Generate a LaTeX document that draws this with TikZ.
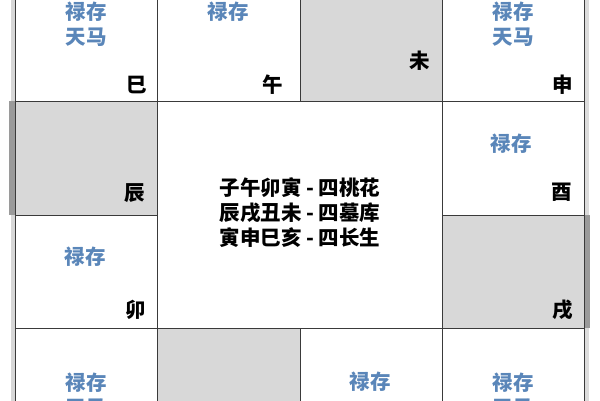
\documentclass[tikz,border=0pt]{standalone}
\usepackage{fontspec}
\newfontfamily\cjk{Noto Sans CJK SC}
\definecolor{linec}{HTML}{3A3A3A}
\definecolor{cellgray}{HTML}{D8D8D8}
\definecolor{blueT}{HTML}{5A86B9}
\definecolor{shadowc}{HTML}{9A9A9A}
\tikzset{
  cell/.style={draw=linec, line width=1.1pt, rectangle, inner sep=0pt, anchor=north west,
    minimum width=142.25pt, minimum height=113.5pt},
  graycell/.style={cell, fill=cellgray},
  whitecell/.style={cell, fill=white},
  branch/.style={font=\cjk\bfseries\fontsize{20.5}{20.5}\selectfont, text=black, inner sep=0pt},
  star/.style={font=\cjk\bfseries\fontsize{20.5}{25}\selectfont, text=blueT, inner sep=0pt, align=center},
  mid/.style={font=\cjk\bfseries\fontsize{20.5}{25}\selectfont, text=black, inner sep=0pt, align=center}
}
\begin{document}
\begin{tikzpicture}[x=1pt,y=-1pt]
\useasboundingbox (0,0) rectangle (600,400);
\clip (0,0) rectangle (600,400);
\fill[white] (0,0) rectangle (600,400);
% shadows
\fill[shadowc!40] (11,-12.5) rectangle (15,441.5);
\fill[shadowc!35] (584,-12.5) rectangle (589,441.5);
\fill[shadowc] (9,101) rectangle (15,214.5);
\fill[shadowc] (584,214.5) rectangle (590,328);
% top row
\node[whitecell] (cSi)   at (15,-12.5) {};
\node[whitecell] (cWu)   at (157.25,-12.5) {};
\node[graycell]  (cWei)  at (299.5,-12.5) {};
\node[whitecell] (cShen) at (441.75,-12.5) {};
% second row
\node[graycell]  (cChen) at (15,101) {};
\node[whitecell] (cYou)  at (441.75,101) {};
% third row
\node[whitecell] (cMao)  at (15,214.5) {};
\node[graycell]  (cXu)   at (441.75,214.5) {};
% bottom row
\node[whitecell] (cYin)  at (15,328) {};
\node[graycell]  (cChou) at (157.25,328) {};
\node[whitecell] (cZi)   at (299.5,328) {};
\node[whitecell] (cHai)  at (441.75,328) {};
% center
\node[cell, fill=white, minimum width=284.5pt, minimum height=227pt] (cCenter) at (157.25,101) {};
% branch labels
\node[branch] (lSi)   at (137,85) {巳};
\node[branch] (lWu)   at (273,85) {午};
\node[branch] (lWei)  at (420,61) {未};
\node[branch] (lShen) at (563,85) {申};
\node[branch] (lChen) at (135,193) {辰};
\node[branch] (lYou)  at (562,192) {酉};
\node[branch] (lMao)  at (136,310) {卯};
\node[branch] (lXu)   at (563,310) {戌};
% stars
\node[star] (sSi)   at (86,24.5) {禄存\\天马};
\node[star] (sWu)   at (228,12) {禄存};
\node[star] (sShen) at (513,24.5) {禄存\\天马};
\node[star] (sYou)  at (511,144) {禄存};
\node[star] (sMao)  at (85,257) {禄存};
\node[star] (sYin)  at (86,395) {禄存\\天马};
\node[star] (sZi)   at (370,382) {禄存};
\node[star] (sHai)  at (513,395) {禄存\\天马};
% center text
\node[mid] (tCenter) at (300,213) {子午卯寅 - 四桃花\\辰戌丑未 - 四墓库\\寅申巳亥 - 四长生};
\end{tikzpicture}
\end{document}
